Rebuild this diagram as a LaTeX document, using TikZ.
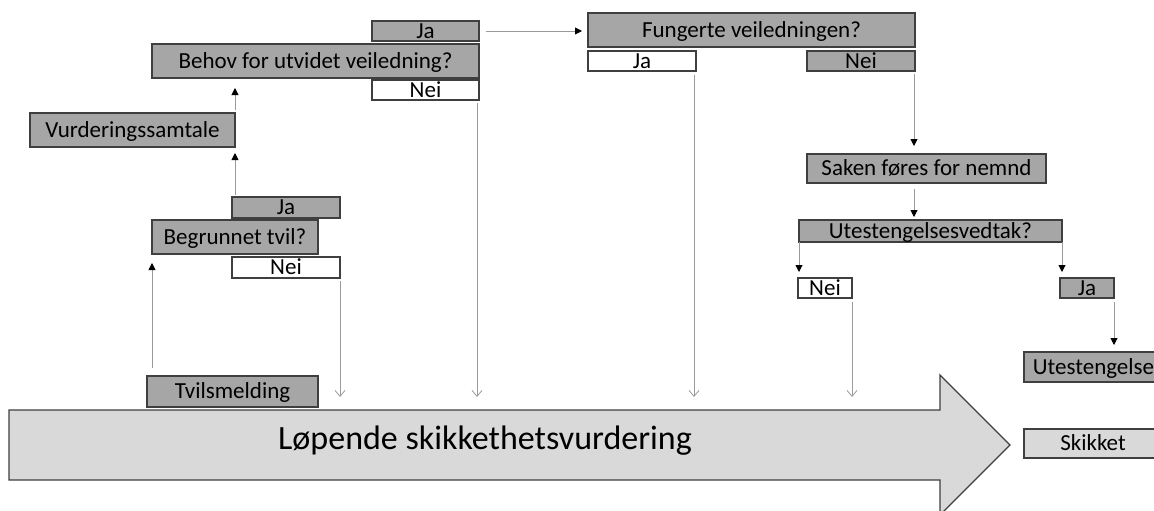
\documentclass[tikz,border=0pt]{standalone}
\usepackage{fontspec}
\setmainfont{Carlito}
\usetikzlibrary{arrows.meta}
\definecolor{boxgray}{HTML}{A6A6A6}
\definecolor{boxlight}{HTML}{D9D9D9}
\definecolor{edgegray}{HTML}{3F3F3F}
\definecolor{linegray}{HTML}{9A9A9A}
\tikzset{
  base/.style={draw=edgegray, line width=1.3pt, inner sep=0pt, outer sep=0pt, anchor=north west,
    text height=14.5pt, text depth=0pt, font=\fontsize{23}{25}\selectfont},
  gbox/.style={base, fill=boxgray},
  wbox/.style={base, fill=white},
  lbox/.style={base, fill=boxlight},
  conn/.style={draw=linegray, line width=0.9pt, -{Triangle[width=7pt,length=7pt,color=black,fill=black]}},
  openconn/.style={draw=linegray, line width=0.9pt, -{Straight Barb[width=10pt,length=6pt,line width=0.8pt]}},
}
\begin{document}
\begin{tikzpicture}[x=1pt,y=-1pt]
\useasboundingbox (0,0) rectangle (1154,511);
\clip (0,0) rectangle (1154,511);

% big arrow
\draw[fill=boxlight, draw=edgegray, line width=1.3pt]
  (9,410) -- (940,410) -- (940,375) -- (1010,445) -- (940,515) -- (940,480) -- (9,480) -- cycle;
\coordinate (bodytop) at (9,410);
\node[anchor=base, font=\fontsize{34}{36}\selectfont] (main) at (485,449) {Løpende skikkethetsvurdering};

% left column
\node[gbox, minimum width=107, minimum height=20] (ja1) at (372,21) {Ja};
\node[gbox, minimum width=327, minimum height=34] (behov) at (152,44) {Behov for utvidet veiledning?};
\node[wbox, minimum width=107, minimum height=20] (nei1) at (372,80) {Nei};
\node[gbox, minimum width=205, minimum height=34] (vurd) at (30,113) {Vurderingssamtale};
\node[gbox, minimum width=108, minimum height=21] (ja2) at (232,197) {Ja};
\node[gbox, minimum width=166, minimum height=34] (begr) at (152,220) {Begrunnet tvil?};
\node[wbox, minimum width=108, minimum height=21] (nei2) at (232,257) {Nei};
\node[gbox, minimum width=171, minimum height=31] (tvil) at (147,376) {Tvilsmelding};

% right part
\node[gbox, minimum width=327, minimum height=34] (fung) at (588,13) {Fungerte veiledningen?};
\node[wbox, minimum width=108, minimum height=20] (jaf) at (588,51) {Ja};
\node[gbox, minimum width=108, minimum height=20] (neif) at (807,51) {Nei};
\node[gbox, minimum width=239, minimum height=29] (saken) at (807,154) {Saken føres for nemnd};
\node[gbox, minimum width=263, minimum height=22] (ute) at (799,220) {Utestengelsesvedtak?};
\node[wbox, minimum width=54, minimum height=20] (neiu) at (798,278) {Nei};
\node[gbox, minimum width=54, minimum height=20] (jau) at (1060,278) {Ja};
\node[gbox, minimum width=139, minimum height=30] (utest) at (1024,352) {Utestengelse};
\node[lbox, minimum width=138, minimum height=29] (skikket) at (1024,429) {Skikket};

% connectors
\draw[conn, shorten <=3pt, shorten >=10pt] (vurd.north east) -- (vurd.north east |- behov.south);
\draw[conn, shorten <=2pt, shorten >=6pt] (vurd.south east |- ja2.north) -- (vurd.south east);
\draw[conn, shorten <=8pt, shorten >=9pt] (begr.south west |- tvil.north) -- (begr.south west);
\draw[openconn, shorten <=3pt, shorten >=13pt] (nei2.south east) -- (nei2.south east |- bodytop);
\draw[openconn, shorten <=3pt, shorten >=13pt] ([xshift=-2pt]nei1.south east) -- ([xshift=-2pt]nei1.south east |- bodytop);
\draw[conn, shorten <=7pt, shorten >=6pt] (ja1.east) -- (ja1.east -| fung.west);
\draw[openconn, shorten <=4pt, shorten >=13pt] ([xshift=-2pt]jaf.south east) -- ([xshift=-2pt]jaf.south east |- bodytop);
\draw[conn, shorten <=3pt, shorten >=8pt] ([xshift=-1pt]neif.south east) -- ([xshift=-1pt]neif.south east |- saken.north);
\draw[conn, shorten <=6pt, shorten >=3pt] ([xshift=-1pt]neif.east |- saken.south) -- ([xshift=-1pt]neif.east |- ute.north);
\draw[conn, shorten <=0pt, shorten >=6pt] (ute.south west) -- (ute.south west |- neiu.north);
\draw[conn, shorten <=0pt, shorten >=6pt] (ute.south east) -- (ute.south east |- jau.north);
\draw[openconn, shorten <=4pt, shorten >=13pt] (neiu.south east) -- (neiu.south east |- bodytop);
\draw[conn, shorten <=4pt, shorten >=7pt] (jau.south east) -- (jau.south east |- utest.north);
\end{tikzpicture}
\end{document}
